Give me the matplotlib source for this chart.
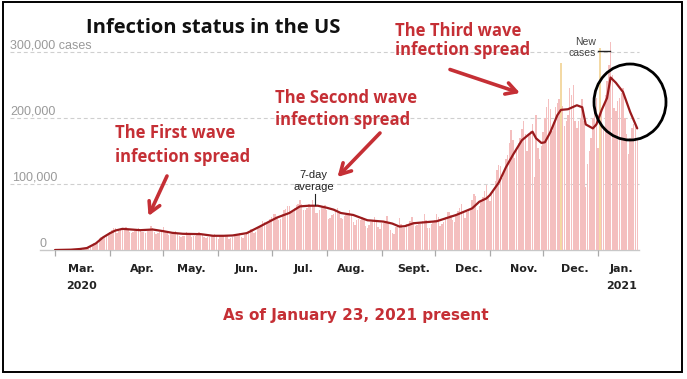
import matplotlib
matplotlib.use("Agg")
import matplotlib.pyplot as plt
import matplotlib.dates as mdates
import matplotlib.transforms as mtrans
from matplotlib.patches import Rectangle, Ellipse
from matplotlib.lines import Line2D
import pandas as pd

# ---------------- data ----------------
title = "Infection status in the US"
footer = "As of January 23, 2021 present"
start_date = "2020-03-01"

# daily new cases, thousands (Mar 1 2020 .. Jan 23 2021), one row per week (Sun..Sat)
daily_cases_k = [
    0.01, 0.02, 0.03, 0.03, 0.07, 0.1, 0.1,
    0.12, 0.2, 0.3, 0.4, 0.5, 0.6, 0.8,
    0.8, 1.2, 1.8, 2.8, 4.5, 5.6, 7.0,
    8.8, 10.5, 10.9, 12.4, 17.7, 19.2, 19.5,
    20.5, 22, 25, 26.5, 30, 33, 33.5,
    26, 28.5, 31, 32, 33, 35, 30,
    27, 25.5, 27, 29.5, 31.5, 33, 29.5,
    27, 27, 25.5, 28.5, 31, 37, 33.5,
    27, 24, 25, 27.5, 30, 35, 29,
    25, 22.5, 23.5, 24.5, 27.5, 28, 26,
    20.5, 19, 21.5, 21.5, 26.5, 26, 25,
    19.5, 21.5, 21, 22.5, 26.5, 24, 22,
    19, 18, 19, 20, 23, 23, 24,
    19, 17, 21, 20.5, 23, 22.5, 22,
    17, 17.5, 19, 21.5, 22.5, 24, 25,
    19.5, 18.5, 23, 26, 27.5, 32, 32.5,
    26, 27.5, 32.5, 37, 38.5, 44.5, 43,
    40, 41, 46.5, 50, 55, 54, 49,
    45, 47.5, 54, 60.5, 62, 67, 66,
    58.5, 58, 63, 67.5, 70, 76, 70,
    61, 60, 63, 70, 68, 76, 66,
    56, 56, 60, 66, 67, 68, 60,
    47, 48, 53, 55, 59, 63, 56,
    48, 47, 52, 53, 56, 60, 53,
    42, 38, 45, 47, 46, 50, 48,
    36, 34, 38, 43, 46, 50, 45,
    35, 32, 41, 41, 44, 51, 42,
    31, 26, 24, 35, 36, 48, 39,
    33, 33, 39, 38, 44, 50, 42,
    36, 38, 40, 39, 44, 55, 45,
    34, 33, 40, 42, 45, 55, 50,
    36, 39, 42, 50, 57, 58, 53,
    46, 43, 52, 59, 64, 70, 56,
    48, 58, 61, 62, 76, 84, 82,
    61, 67, 74, 80, 89, 99, 82,
    74, 87, 92, 104, 121, 128, 127,
    109, 119, 137, 143, 162, 182, 166,
    139, 155, 162, 170, 183, 195, 175,
    150, 175, 180, 190, 110, 204, 155,
    138, 158, 179, 199, 217, 228, 213,
    180, 193, 217, 223, 228, 283, 218,
    187, 195, 205, 245, 235, 250, 195,
    185, 195, 200, 228, 195, 95, 130,
    150, 170, 200, 232, 230, 155, 305,
    210, 185, 235, 255, 280, 315, 265,
    215, 210, 225, 230, 238, 245, 200,
    175, 145, 170, 185, 190, 190, 170,
]
highlight_dates = ["2020-12-11", "2021-01-02"]

# 7-day average (thousands)
avg_dates = [
    "2020-03-01", "2020-03-10", "2020-03-15", "2020-03-19", "2020-03-24", "2020-03-28",
    "2020-04-01", "2020-04-04", "2020-04-08", "2020-04-13", "2020-04-18", "2020-04-25",
    "2020-05-01", "2020-05-06", "2020-05-12", "2020-05-22", "2020-05-29",
    "2020-06-04", "2020-06-09", "2020-06-17", "2020-06-24", "2020-06-29",
    "2020-07-04", "2020-07-11", "2020-07-17", "2020-07-22", "2020-07-27",
    "2020-08-01", "2020-08-05", "2020-08-09", "2020-08-16", "2020-08-24",
    "2020-09-02", "2020-09-07", "2020-09-11", "2020-09-14", "2020-09-19",
    "2020-10-02", "2020-10-13", "2020-10-22", "2020-10-26", "2020-10-30",
    "2020-11-01", "2020-11-06", "2020-11-10", "2020-11-14", "2020-11-19",
    "2020-11-23", "2020-11-25", "2020-11-27", "2020-11-30",
    "2020-12-02", "2020-12-05", "2020-12-09", "2020-12-11", "2020-12-15",
    "2020-12-20", "2020-12-23", "2020-12-25", "2020-12-29", "2020-12-31",
    "2021-01-03", "2021-01-06", "2021-01-08", "2021-01-11", "2021-01-15",
    "2021-01-19", "2021-01-23",
]
avg_values_k = [
    0, 0.5, 1.5, 3, 10, 19,
    25.5, 29.5, 32, 31, 30, 31,
    28.5, 26, 24.5, 24, 21.5,
    21.5, 22, 25.5, 35, 42,
    49, 56, 66, 67, 67,
    64, 61, 56, 53, 45,
    43, 40, 35.5, 36, 40.5,
    43.5, 53, 63, 73, 78,
    83, 102, 125, 144, 166,
    175, 179, 169, 162,
    163, 178, 204, 212, 213,
    219, 216, 190, 184, 190,
    212, 230, 261, 253, 239,
    209, 184,
]

month_starts = ["2020-03-01", "2020-04-01", "2020-05-01", "2020-06-01", "2020-07-01",
                "2020-08-01", "2020-09-01", "2020-10-01", "2020-11-01", "2020-12-01",
                "2021-01-01"]
month_labels = ["Mar.", "Apr.", "May.", "Jun.", "Jul.", "Aug.", "Sept.", "Dec.",
                "Nov.", "Dec.", "Jan."]
year_labels = ["2020", "", "", "", "", "", "", "", "", "", "2021"]
label_dates = ["2020-03-16", "2020-04-19", "2020-05-17", "2020-06-17", "2020-07-19",
               "2020-08-15", "2020-09-19", "2020-10-20", "2020-11-20", "2020-12-19",
               "2021-01-14"]

ytick_values_k = [0, 100, 200, 300]
ytick_labels = ["0", "100,000", "200,000", "300,000 cases"]

wave_labels = [("The First wave", "infection spread"),
               ("The Second wave", "infection spread"),
               ("The Third wave", "infection spread")]
avg_label = ("7-day", "average")
new_label = ("New", "cases")

# ---------------- styling / layout ----------------
W, H = 687, 379
RED = "#c52f35"
LINE = "#9a1a1c"
BAR = "#f4bfbf"
BAR_HI = "#f3d9a4"
HEAD_FONT = ["Open Sans", "DejaVu Sans"]

fig = plt.figure(figsize=(W / 100, H / 100), dpi=100)
fig.patch.set_facecolor("white")


def fx(px):
    return px / W


def fy(py):
    return 1 - py / H


AX_L, AX_R, AX_B, AX_T = 52.9, 639.0, 250.0, 31.9
ax = fig.add_axes([fx(AX_L), fy(AX_B), (AX_R - AX_L) / W, (AX_B - AX_T) / H])
ax.set_facecolor("none")

dates = pd.date_range(start_date, periods=len(daily_cases_k), freq="D")
xnum = mdates.date2num(dates)
hi = set(pd.to_datetime(highlight_dates))
colors = [BAR_HI if d in hi else BAR for d in dates]

ax.bar(xnum, daily_cases_k, width=0.8, color=colors, linewidth=0, zorder=2)
ax.plot(mdates.date2num(pd.to_datetime(avg_dates)), avg_values_k, color=LINE,
        lw=1.6, zorder=3, solid_joinstyle="round", solid_capstyle="round")

ax.set_xlim(xnum[0] - 1.2, xnum[-1] + 1.0)
ax.set_ylim(0, 330)
for s in ax.spines.values():
    s.set_visible(False)
ax.set_yticks([])
ax.set_xticks(mdates.date2num(pd.to_datetime(month_starts)))
ax.tick_params(axis="x", length=4.5, width=0.9, color="#aaaaaa", labelbottom=False)

axw = AX_R - AX_L
for v in ytick_values_k[1:]:
    ax.axhline(v, xmin=(10 - AX_L) / axw, xmax=1.0, color="#cfcfcf", lw=0.8,
               ls=(0, (3.5, 2.5)), clip_on=False, zorder=1)
ax.axhline(0, xmin=(40 - AX_L) / axw, xmax=1.0, color="#c8c8c8", lw=1.0,
           clip_on=False, zorder=1)

ytr = mtrans.blended_transform_factory(fig.transFigure, ax.transData)
ylab_x = [39, 12, 10, 10]
for v, lab, lx in zip(ytick_values_k, ytick_labels, ylab_x):
    ax.text(fx(lx), v + 4.5, lab, transform=ytr, ha="left", va="baseline",
            fontsize=9, color="#9a9a9a", family="Liberation Sans")

xtr = mtrans.blended_transform_factory(ax.transData, fig.transFigure)
for d, m, yl in zip(label_dates, month_labels, year_labels):
    xv = mdates.date2num(pd.Timestamp(d))
    ax.text(xv, fy(272), m, transform=xtr, ha="center", va="baseline",
            fontsize=8, fontweight="bold", color="#222222", family="DejaVu Sans")
    if yl:
        ax.text(xv, fy(289), yl, transform=xtr, ha="center", va="baseline",
                fontsize=8, fontweight="bold", color="#222222", family="DejaVu Sans")

# title and footer
fig.text(fx(86), fy(33.3), title, ha="left", va="baseline", fontsize=14.5,
         fontweight="bold", color="#111111", family=HEAD_FONT)
fig.text(fx(356), fy(320), footer, ha="center", va="baseline", fontsize=11,
         fontweight="bold", color=RED, family="DejaVu Sans")

# wave labels
wave_pos = [(115, 138.3, 161.7), (275, 102.7, 125), (395, 36, 55)]
for (l1, l2), (lx, b1, b2) in zip(wave_labels, wave_pos):
    fig.text(fx(lx), fy(b1), l1, ha="left", va="baseline", fontsize=12,
             fontweight="bold", color=RED, family=HEAD_FONT)
    fig.text(fx(lx), fy(b2), l2, ha="left", va="baseline", fontsize=12,
             fontweight="bold", color=RED, family=HEAD_FONT)

# arrows
arrows = [((167, 176), (148.5, 216)), ((380, 133), (337.5, 177)), ((450, 69.5), (520, 93))]
for (tx, ty), (hx, hy) in arrows:
    ax.annotate("", xy=(fx(hx), fy(hy)), xytext=(fx(tx), fy(ty)),
                xycoords="figure fraction", textcoords="figure fraction",
                arrowprops=dict(arrowstyle="->,head_length=0.75,head_width=0.42",
                                lw=2.6, color=RED, shrinkA=0, shrinkB=0))

# 7-day average label
fig.text(fx(313.5), fy(178), avg_label[0], ha="center", va="baseline", fontsize=8,
         color="#222222", family="Liberation Sans")
fig.text(fx(313.5), fy(189.5), avg_label[1], ha="center", va="baseline", fontsize=8,
         color="#222222", family="Liberation Sans")
fig.add_artist(Line2D([fx(315), fx(315)], [fy(194), fy(205)], color="#222222", lw=0.8))

# new cases label
fig.text(fx(586), fy(45), new_label[0], ha="center", va="baseline", fontsize=7.5,
         color="#444444", family="Liberation Sans")
fig.text(fx(582.5), fy(56), new_label[1], ha="center", va="baseline", fontsize=7.5,
         color="#444444", family="Liberation Sans")
fig.add_artist(Line2D([fx(598), fx(610)], [fy(50.7), fy(50.7)], color="#222222", lw=1.0))

# highlight circle
fig.add_artist(Ellipse((fx(630), fy(102)), 72 / W, 76 / H, fill=False,
                       edgecolor="black", lw=2.0, transform=fig.transFigure))

# outer frame
fig.add_artist(Rectangle((fx(3), fy(372)), (682 - 3) / W, (372 - 2) / H, fill=False,
                         edgecolor="black", lw=1.4, transform=fig.transFigure))

fig.savefig("out.png", dpi=100, facecolor="white")
